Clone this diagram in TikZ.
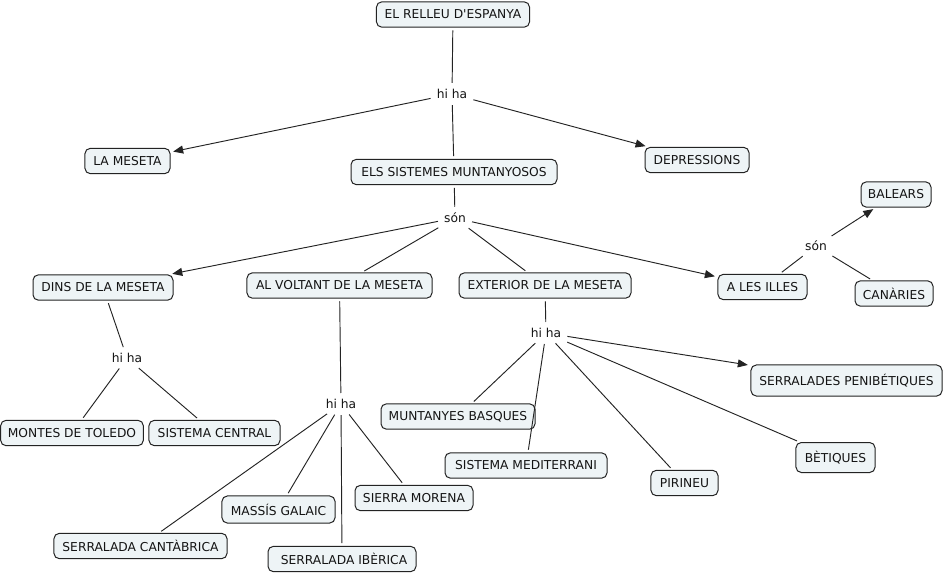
\documentclass[tikz,border=0pt]{standalone}
\usepackage{fontspec}
\setmainfont{DejaVu Sans}
\usetikzlibrary{arrows.meta}
\definecolor{cfill}{RGB}{238,244,246}
\definecolor{cline}{RGB}{35,35,35}
\begin{document}
\begin{tikzpicture}[x=0.75pt,y=-0.75pt,
  concept/.style={draw=cline, fill=cfill, rounded corners=4pt, line width=0.75pt,
    minimum height=19pt, inner xsep=5pt, inner ysep=0pt,
    font=\fontsize{9.2pt}{10.5pt}\selectfont, text=black!92},
  linklabel/.style={inner sep=2.5pt, font=\fontsize{9.2pt}{10.5pt}\selectfont, text=black!92},
  conn/.style={draw=cline, line width=0.7pt, shorten <=2pt, shorten >=2pt},
  arr/.style={conn, -{Triangle[length=7.5pt,width=6pt]}}]
\useasboundingbox[fill=white] (0,0) rectangle (945,576);

% concepts
\node[concept, minimum width=114.8pt] (relleu) at (453,14.5) {EL RELLEU D\textquotesingle ESPANYA};
\node[concept, minimum width=63.8pt] (meseta) at (127.5,161) {LA MESETA};
\node[concept, minimum width=154.5pt] (sist) at (454,172) {ELS SISTEMES MUNTANYOSOS};
\node[concept, minimum width=78pt] (depr) at (697,160) {DEPRESSIONS};
\node[concept, minimum width=105pt] (dins) at (103,287.5) {DINS DE LA MESETA};
\node[concept, minimum width=138.8pt] (volt) at (339.5,285.5) {AL VOLTANT DE LA MESETA};
\node[concept, minimum width=129pt] (ext) at (545,285.5) {EXTERIOR DE LA MESETA};
\node[concept, minimum width=66.8pt] (illes) at (762.5,287) {A LES ILLES};
\node[concept, minimum width=52.5pt] (bal) at (896,194.5) {BALEARS};
\node[concept, minimum width=58.5pt] (can) at (894,293.5) {CANÀRIES};
\node[concept, minimum width=107pt] (toledo) at (72,433) {MONTES DE TOLEDO};
\node[concept, minimum width=98.3pt] (central) at (214.5,433) {SISTEMA CENTRAL};
\node[concept, minimum width=115.5pt] (basques) at (458,416.5) {MUNTANYES BASQUES};
\node[concept, minimum width=121.5pt] (medit) at (526,465.5) {SISTEMA MEDITERRANI};
\node[concept, minimum width=50.3pt] (pirineu) at (684.5,483) {PIRINEU};
\node[concept, minimum width=59.3pt, minimum height=22.5pt] (betiques) at (835.5,457.5) {BÈTIQUES};
\node[concept, minimum width=143.3pt, minimum height=23.3pt] (penib) at (846.5,380.5) {SERRALADES PENIBÉTIQUES};
\node[concept, minimum width=88.5pt] (morena) at (414,498) {SIERRA MORENA};
\node[concept, minimum width=84.8pt, minimum height=20.3pt] (galaic) at (278.5,509.5) {MASSÍS GALAIC};
\node[concept, minimum width=129.8pt] (cantab) at (140.5,546) {SERRALADA CANTÀBRICA};
\node[concept, minimum width=111pt] (iberica) at (342,559) {\hspace{3pt}SERRALADA IBÈRICA};

% linking phrases
\node[linklabel] (l1) at (452,94) {hi ha};
\node[linklabel] (l2) at (455,218) {són};
\node[linklabel] (l3) at (816,246) {són};
\node[linklabel] (l4) at (127,358) {hi ha};
\node[linklabel] (l5) at (341,404) {hi ha};
\node[linklabel] (l6) at (546,333) {hi ha};

% connectors
\draw[conn] (relleu) -- (l1);
\draw[arr] (l1) -- (meseta);
\draw[conn] (l1) -- (sist);
\draw[arr] (l1) -- (depr);

\draw[conn] (sist) -- (l2);
\draw[arr] (l2) -- (dins);
\draw[conn] (l2) -- (volt);
\draw[conn] (l2) -- (ext);
\draw[arr] (l2) -- (illes);

\draw[conn] (illes) -- (l3);
\draw[arr] (l3) -- (bal);
\draw[conn] (l3) -- (can);

\draw[conn] (dins) -- (l4);
\draw[conn] (l4) -- (toledo);
\draw[conn] (l4) -- (central);

\draw[conn] (volt) -- (l5);
\draw[conn] (l5) -- (cantab);
\draw[conn] (l5) -- (galaic);
\draw[conn] (l5) -- (iberica);
\draw[conn] (l5) -- (morena);

\draw[conn] (ext) -- (l6);
\draw[conn] (l6) -- (basques);
\draw[conn] (l6) -- (medit);
\draw[conn] (l6) -- (pirineu);
\draw[conn] (l6) -- (betiques);
\draw[arr] (l6) -- (penib);
\end{tikzpicture}
\end{document}
